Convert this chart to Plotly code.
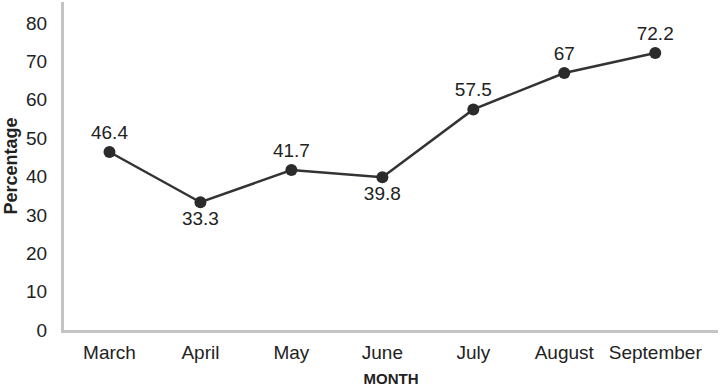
import plotly.graph_objects as go

months = ["March", "April", "May", "June", "July", "August", "September"]
values = [46.4, 33.3, 41.7, 39.8, 57.5, 67, 72.2]
label_pos = ["top center", "bottom center", "top center", "bottom center",
             "top center", "top center", "top center"]
y_ticks = [0, 10, 20, 30, 40, 50, 60, 70, 80]

FONT = "Liberation Sans, Arial, sans-serif"

fig = go.Figure()
fig.add_trace(go.Scatter(
    x=list(range(len(months))), y=values,
    mode="lines+markers+text",
    text=[f"{v:g}" for v in values],
    textposition=label_pos,
    textfont=dict(family=FONT, size=19, color="#222"),
    line=dict(color="#333333", width=2.5),
    marker=dict(color="#2b2b2b", size=12),
    cliponaxis=False,
))

fig.update_layout(
    width=720, height=391,
    margin=dict(l=64, r=2, t=2, b=61, autoexpand=False),
    paper_bgcolor="white", plot_bgcolor="white",
    showlegend=False,
    font=dict(family=FONT, color="#222"),
    xaxis=dict(
        tickmode="array", tickvals=list(range(len(months))), ticktext=months,
        range=[-0.5, 6.69], showgrid=False, zeroline=False,
        showline=True, linecolor="#c4c4c4", linewidth=3,
        ticks="", ticklabelstandoff=3, tickfont=dict(size=19, color="#222"),
        automargin=False,
        title=dict(text="<b>MONTH</b>", font=dict(size=15, color="#222"), standoff=12),
    ),
    yaxis=dict(
        range=[0, 85.5], tickvals=y_ticks, showgrid=False, zeroline=False,
        showline=True, linecolor="#c4c4c4", linewidth=3,
        ticks="", ticklabelstandoff=10, tickfont=dict(size=19, color="#222"),
        automargin=False,
        title=dict(text="<b>Percentage</b>", font=dict(size=18, color="#222"), standoff=4),
    ),
)

fig.write_html("out.html", config={"displayModeBar": False},
               post_script="document.body.style.margin='0';")
